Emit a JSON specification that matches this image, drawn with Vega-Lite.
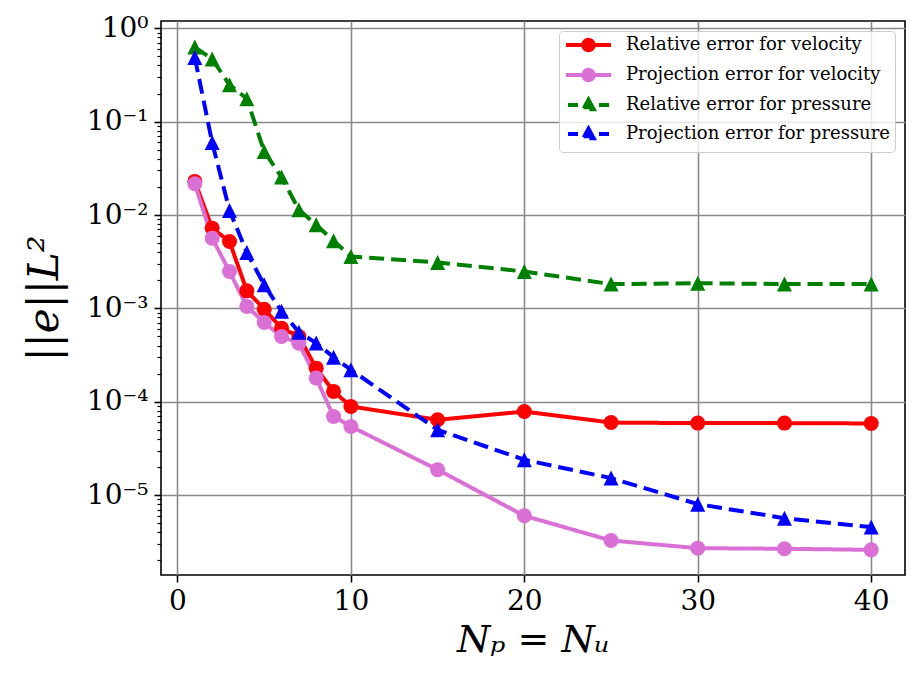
{
  "$schema": "https://vega.github.io/schema/vega-lite/v6.json",
  "width": 744,
  "height": 554,
  "autosize": {"type": "none"},
  "padding": {"left": 161, "top": 21, "right": 16, "bottom": 109},
  "background": "white",
  "config": {
    "font": "DejaVu Serif",
    "view": {"stroke": "black", "strokeWidth": 1.6},
    "axis": {
      "labelFont": "DejaVu Serif",
      "labelFontSize": 28,
      "labelColor": "black",
      "titleFont": "DejaVu Serif",
      "titleColor": "black",
      "titleFontWeight": "normal",
      "titleFontStyle": "italic",
      "tickColor": "black",
      "tickWidth": 1.6,
      "tickSize": 7,
      "domain": false,
      "gridColor": "#8a8a8a",
      "gridWidth": 1.6,
      "gridOpacity": 1
    },
    "legend": {
      "title": null,
      "orient": "top-right",
      "offset": 10,
      "padding": 5,
      "labelFont": "DejaVu Serif",
      "labelFontSize": 18,
      "labelColor": "black",
      "labelLimit": 400,
      "labelOffset": 44,
      "symbolSize": 196,
      "symbolStrokeWidth": 4,
      "rowPadding": 2,
      "strokeColor": "#cccccc",
      "fillColor": "rgba(255,255,255,0.8)",
      "cornerRadius": 4
    }
  },
  "datasets": {
    "errors": [
      {"series": "Relative error for velocity", "n": 1, "err": 0.0229},
      {"series": "Relative error for velocity", "n": 2, "err": 0.00723},
      {"series": "Relative error for velocity", "n": 3, "err": 0.0052},
      {"series": "Relative error for velocity", "n": 4, "err": 0.00154},
      {"series": "Relative error for velocity", "n": 5, "err": 0.00098},
      {"series": "Relative error for velocity", "n": 6, "err": 0.000614},
      {"series": "Relative error for velocity", "n": 7, "err": 0.0005},
      {"series": "Relative error for velocity", "n": 8, "err": 0.000229},
      {"series": "Relative error for velocity", "n": 9, "err": 0.000129},
      {"series": "Relative error for velocity", "n": 10, "err": 0.000089},
      {"series": "Relative error for velocity", "n": 15, "err": 0.000064},
      {"series": "Relative error for velocity", "n": 20, "err": 0.0000785},
      {"series": "Relative error for velocity", "n": 25, "err": 0.0000598},
      {"series": "Relative error for velocity", "n": 30, "err": 0.000059},
      {"series": "Relative error for velocity", "n": 35, "err": 0.000059},
      {"series": "Relative error for velocity", "n": 40, "err": 0.0000585},
      {"series": "Projection error for velocity", "n": 1, "err": 0.0216},
      {"series": "Projection error for velocity", "n": 2, "err": 0.00565},
      {"series": "Projection error for velocity", "n": 3, "err": 0.00248},
      {"series": "Projection error for velocity", "n": 4, "err": 0.00105},
      {"series": "Projection error for velocity", "n": 5, "err": 0.000706},
      {"series": "Projection error for velocity", "n": 6, "err": 0.0005},
      {"series": "Projection error for velocity", "n": 7, "err": 0.000424},
      {"series": "Projection error for velocity", "n": 8, "err": 0.000179},
      {"series": "Projection error for velocity", "n": 9, "err": 0.0000695},
      {"series": "Projection error for velocity", "n": 10, "err": 0.0000543},
      {"series": "Projection error for velocity", "n": 15, "err": 0.0000187},
      {"series": "Projection error for velocity", "n": 20, "err": 0.000006},
      {"series": "Projection error for velocity", "n": 25, "err": 0.00000326},
      {"series": "Projection error for velocity", "n": 30, "err": 0.0000027},
      {"series": "Projection error for velocity", "n": 35, "err": 0.00000266},
      {"series": "Projection error for velocity", "n": 40, "err": 0.00000259},
      {"series": "Relative error for pressure", "n": 1, "err": 0.63},
      {"series": "Relative error for pressure", "n": 2, "err": 0.468},
      {"series": "Relative error for pressure", "n": 3, "err": 0.248},
      {"series": "Relative error for pressure", "n": 4, "err": 0.176},
      {"series": "Relative error for pressure", "n": 5, "err": 0.048},
      {"series": "Relative error for pressure", "n": 6, "err": 0.0255},
      {"series": "Relative error for pressure", "n": 7, "err": 0.0114},
      {"series": "Relative error for pressure", "n": 8, "err": 0.00785},
      {"series": "Relative error for pressure", "n": 9, "err": 0.0053},
      {"series": "Relative error for pressure", "n": 10, "err": 0.0036},
      {"series": "Relative error for pressure", "n": 15, "err": 0.0031},
      {"series": "Relative error for pressure", "n": 20, "err": 0.00248},
      {"series": "Relative error for pressure", "n": 25, "err": 0.00182},
      {"series": "Relative error for pressure", "n": 30, "err": 0.00186},
      {"series": "Relative error for pressure", "n": 35, "err": 0.00182},
      {"series": "Relative error for pressure", "n": 40, "err": 0.00182},
      {"series": "Projection error for pressure", "n": 1, "err": 0.487},
      {"series": "Projection error for pressure", "n": 2, "err": 0.0598},
      {"series": "Projection error for pressure", "n": 3, "err": 0.0112},
      {"series": "Projection error for pressure", "n": 4, "err": 0.00397},
      {"series": "Projection error for pressure", "n": 5, "err": 0.00179},
      {"series": "Projection error for pressure", "n": 6, "err": 0.00093},
      {"series": "Projection error for pressure", "n": 7, "err": 0.000556},
      {"series": "Projection error for pressure", "n": 8, "err": 0.000425},
      {"series": "Projection error for pressure", "n": 9, "err": 0.0003},
      {"series": "Projection error for pressure", "n": 10, "err": 0.00022},
      {"series": "Projection error for pressure", "n": 15, "err": 0.00005},
      {"series": "Projection error for pressure", "n": 20, "err": 0.0000239},
      {"series": "Projection error for pressure", "n": 25, "err": 0.0000152},
      {"series": "Projection error for pressure", "n": 30, "err": 0.000008},
      {"series": "Projection error for pressure", "n": 35, "err": 0.00000566},
      {"series": "Projection error for pressure", "n": 40, "err": 0.00000454}
    ]
  },
  "data": {"name": "errors"},
  "layer": [
    {
      "mark": {"type": "line", "strokeWidth": 4},
      "encoding": {
        "x": {
          "field": "n",
          "type": "quantitative",
          "scale": {"domain": [-0.95, 41.95], "nice": false, "zero": false},
          "axis": {
            "values": [0, 10, 20, 30, 40],
            "grid": true,
            "labelPadding": 5,
            "title": "Nₚ = Nᵤ",
            "titleFontSize": 38,
            "titlePadding": 6
          }
        },
        "y": {
          "field": "err",
          "type": "quantitative",
          "scale": {"type": "log", "domain": [1.393e-6, 1.197], "nice": false},
          "axis": {
            "values": [0.00001, 0.0001, 0.001, 0.01, 0.1, 1],
            "grid": true,
            "labelPadding": 6,
            "labelExpr": "'10' + (datum.value > 0.5 ? '⁰' : '⁻' + ['⁰','¹','²','³','⁴','⁵','⁶'][round(-log(datum.value) / LN10)])",
            "title": "||e||L²",
            "titleFontSize": 42,
            "titlePadding": 20
          }
        },
        "color": {
          "field": "series",
          "type": "nominal",
          "scale": {
            "domain": ["Relative error for velocity", "Projection error for velocity", "Relative error for pressure", "Projection error for pressure"],
            "range": ["#ff0000", "#da70d6", "#008000", "#0000ff"]
          },
          "legend": {
            "encode": {
              "symbols": {
                "update": {
                  "shape": {"signal": "indexof(['Relative error for pressure','Projection error for pressure'], datum.value) >= 0 ? 'M-0.714,0H0.714M3.714,0H5.143M2.214,-0.75L2.95,0.6L1.478,0.6Z' : 'M-1,0H5.43M2.954,0A0.74,0.74,0,1,1,1.474,0A0.74,0.74,0,1,1,2.954,0Z'"},
                  "stroke": {"scale": "color", "field": "value"},
                  "fill": {"scale": "color", "field": "value"},
                  "strokeWidth": {"value": 4},
                  "strokeDash": {"value": [1, 0]},
                  "opacity": {"value": 1}
                }
              }
            }
          }
        },
        "strokeDash": {
          "field": "series",
          "type": "nominal",
          "scale": {
            "domain": ["Relative error for velocity", "Projection error for velocity", "Relative error for pressure", "Projection error for pressure"],
            "range": [[1, 0], [1, 0], [15, 7], [15, 7]]
          },
          "legend": null
        }
      }
    },
    {
      "transform": [{"filter": "indexof(datum.series, 'velocity') >= 0"}],
      "mark": {"type": "point", "shape": "circle", "filled": true, "size": 225, "opacity": 1},
      "encoding": {
        "x": {"field": "n", "type": "quantitative"},
        "y": {
          "field": "err",
          "type": "quantitative",
          "axis": {
            "orient": "left",
            "values": [0.000002, 0.000003, 0.000004, 0.000005, 0.000006, 0.000007, 0.000008, 0.000009,
                       0.00002, 0.00003, 0.00004, 0.00005, 0.00006, 0.00007, 0.00008, 0.00009,
                       0.0002, 0.0003, 0.0004, 0.0005, 0.0006, 0.0007, 0.0008, 0.0009,
                       0.002, 0.003, 0.004, 0.005, 0.006, 0.007, 0.008, 0.009,
                       0.02, 0.03, 0.04, 0.05, 0.06, 0.07, 0.08, 0.09,
                       0.2, 0.3, 0.4, 0.5, 0.6, 0.7, 0.8, 0.9],
            "labels": false,
            "grid": false,
            "tickSize": 4,
            "tickWidth": 1.2,
            "title": null
          }
        },
        "color": {"field": "series", "type": "nominal"}
      }
    },
    {
      "transform": [{"filter": "indexof(datum.series, 'pressure') >= 0"}],
      "mark": {"type": "point", "shape": "M0,-1L1,1L-1,1Z", "filled": true, "size": 225, "opacity": 1},
      "encoding": {
        "x": {"field": "n", "type": "quantitative"},
        "y": {"field": "err", "type": "quantitative", "axis": null},
        "color": {"field": "series", "type": "nominal"}
      }
    }
  ],
  "resolve": {"axis": {"y": "independent"}}
}
